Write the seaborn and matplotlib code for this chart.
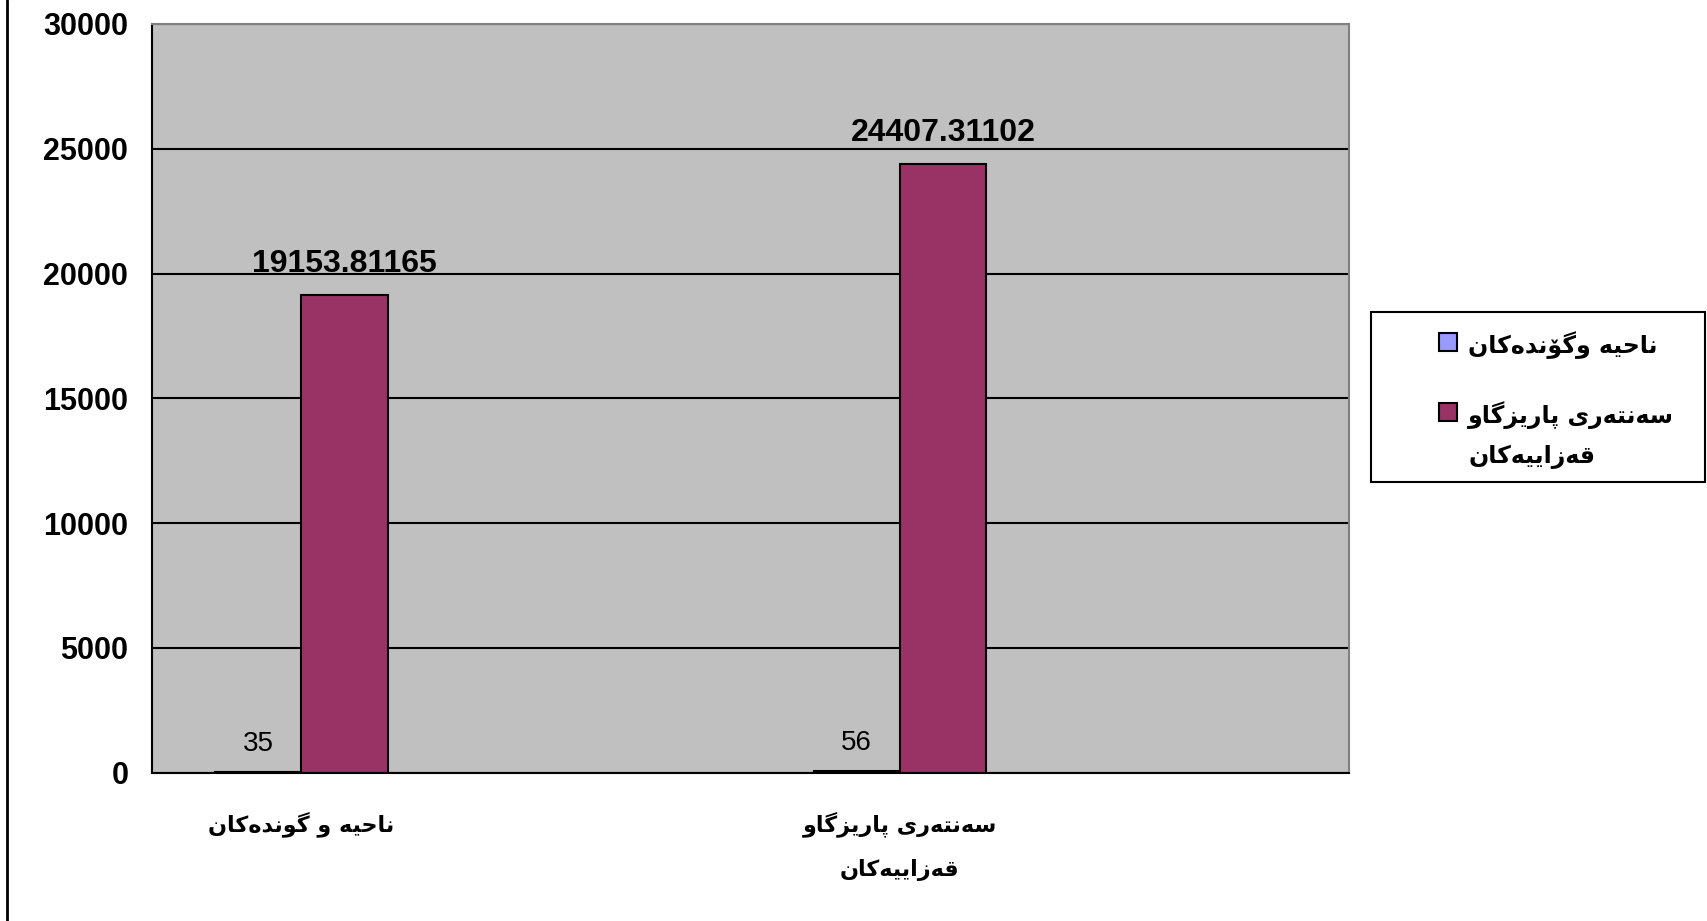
import pandas as pd
import matplotlib
matplotlib.use('Agg')
import matplotlib.pyplot as plt
import seaborn as sns
from matplotlib import font_manager
from matplotlib.ft2font import FT2Font
from matplotlib.patches import Rectangle
from matplotlib.lines import Line2D

# data
categories = ['ناحیه و گوندەکان', 'سەنتەری پارێزگاو\nقەزاییەکان']
slot_order = [categories[0], ' ', categories[1], '  ']
series = ['ناحیه وگۆندەکان', 'سەنتەری پارێزگاو\nقەزاییەکان']
rural = [35, 56]
urban = [19153.81165, 24407.31102]
y_ticks = [0, 5000, 10000, 15000, 20000, 25000, 30000]

blue = '#9999FF'
purple = '#993366'
arabic_font = 'DejaVu Sans'
num_font = 'Liberation Sans'
W, H = 1707, 921

# matplotlib does no arabic shaping, so pick the contextual forms by hand
FORMS = {
    '\u0627': ('\uFE8D', '\uFE8E', None, None),
    '\u062F': ('\uFEA9', '\uFEAA', None, None),
    '\u0631': ('\uFEAD', '\uFEAE', None, None),
    '\u0632': ('\uFEAF', '\uFEB0', None, None),
    '\u0648': ('\uFEED', '\uFEEE', None, None),
    '\u06C6': ('\uFBD9', '\uFBDA', None, None),
    '\u06D5': ('\uFEE9', '\uFEEA', None, None),
    '\u0646': ('\uFEE5', '\uFEE6', '\uFEE7', '\uFEE8'),
    '\u062D': ('\uFEA1', '\uFEA2', '\uFEA3', '\uFEA4'),
    '\u06CC': ('\uFBFC', '\uFBFD', '\uFBFE', '\uFBFF'),
    '\u06CE': ('\uFBFC', '\uFBFD', '\uFBFE', '\uFBFF'),
    '\u0647': ('\uFEE9', '\uFEEA', '\uFEEB', '\uFEEC'),
    '\u06AF': ('\uFB92', '\uFB93', '\uFB94', '\uFB95'),
    '\u06A9': ('\uFB8E', '\uFB8F', '\uFB90', '\uFB91'),
    '\u0633': ('\uFEB1', '\uFEB2', '\uFEB3', '\uFEB4'),
    '\u062A': ('\uFE95', '\uFE96', '\uFE97', '\uFE98'),
    '\u067E': ('\uFB56', '\uFB57', '\uFB58', '\uFB59'),
    '\u0642': ('\uFED5', '\uFED6', '\uFED7', '\uFED8'),
}

path = font_manager.findfont(font_manager.FontProperties(family=arabic_font, weight='bold'))
cmap = FT2Font(path).get_charmap()


def shape_line(text):
    out = []
    for i, c in enumerate(text):
        if c not in FORMS:
            out.append(c)
            continue
        prev = text[i - 1] if i > 0 else None
        nxt = text[i + 1] if i + 1 < len(text) else None
        jp = prev in FORMS and FORMS[prev][2] is not None
        jn = FORMS[c][2] is not None and nxt in FORMS
        idx = 3 if (jp and jn) else 1 if jp else 2 if jn else 0
        g = FORMS[c][idx]
        out.append(g if ord(g) in cmap else c)
    return ''.join(reversed(out))


def shape(text):
    return '\n'.join(shape_line(l) for l in text.split('\n'))


df = pd.DataFrame({
    'category': categories + categories,
    'series': [series[0]] * 2 + [series[1]] * 2,
    'value': rural + urban,
})

sns.set_style('white')
plt.rcParams['text.color'] = 'black'
plt.rcParams['xtick.color'] = 'black'
plt.rcParams['ytick.color'] = 'black'

fig, ax = plt.subplots(figsize=(W / 100, H / 100), dpi=100)
fig.subplots_adjust(left=0.089, right=0.790, top=0.974, bottom=0.161)
ax.set_facecolor('#C0C0C0')

sns.barplot(data=df, x='category', y='value', hue='series', order=slot_order,
            hue_order=series, palette=[blue, purple], width=0.576, saturation=1,
            edgecolor='black', linewidth=1.5, errorbar=None, legend=False, ax=ax)

for i, cont in enumerate(ax.containers):
    labels = [f'{b.get_height():.10g}' for b in cont]
    ax.bar_label(cont, labels=labels, padding=11, family=num_font, color='black',
                 fontsize=23 if i == 1 else 20,
                 fontweight='bold' if i == 1 else 'normal')

ax.set_ylim(0, 30000)
ax.set_xlim(-0.5, 3.5)
ax.set_yticks(y_ticks)
ax.set_yticklabels([str(t) for t in y_ticks], family=num_font, fontweight='bold', fontsize=22)
ax.set_xticks(range(4))
ax.set_xticklabels([shape(s) for s in slot_order], family=arabic_font,
                   fontweight='bold', fontsize=16, linespacing=2.3)
ax.set_xticks([-0.5, 0.5, 1.5, 2.5, 3.5], minor=True)
ax.tick_params(axis='x', which='major', length=0, pad=28)
ax.tick_params(axis='x', which='minor', length=7, width=1.5, direction='out', color='black')
ax.tick_params(axis='y', length=7, width=1.5, direction='out', color='black', pad=10)
ax.set_xlabel('')
ax.set_ylabel('')

ax.yaxis.grid(True, color='black', linewidth=1.5)
ax.set_axisbelow(True)
for side in ['left', 'bottom']:
    ax.spines[side].set_color('black')
    ax.spines[side].set_linewidth(1.5)
for side in ['top', 'right']:
    ax.spines[side].set_color('#808080')
    ax.spines[side].set_linewidth(1.5)

# legend drawn by hand so the swatch sits on the first text line
fig.patches.append(Rectangle((1371 / W, 1 - 482 / H), (1705 - 1371) / W, (482 - 312) / H,
                             transform=fig.transFigure, fill=False,
                             edgecolor='black', linewidth=1.5))
entry_y = [342, 412]
for name, color, y0 in zip(series, [blue, purple], entry_y):
    fig.patches.append(Rectangle((1439 / W, 1 - (y0 + 9) / H), 18 / W, 18 / H,
                                 transform=fig.transFigure, facecolor=color,
                                 edgecolor='black', linewidth=1.5))
    for k, line in enumerate(name.split('\n')):
        fig.text(1468 / W, 1 - (y0 + 3 + k * 42) / H, shape_line(line), ha='left',
                 va='center', family=arabic_font, fontweight='bold', fontsize=17)

fig.add_artist(Line2D([7 / W, 7 / W], [0, 1], transform=fig.transFigure,
                      color='black', linewidth=2))

fig.savefig('out.png', dpi=100)
